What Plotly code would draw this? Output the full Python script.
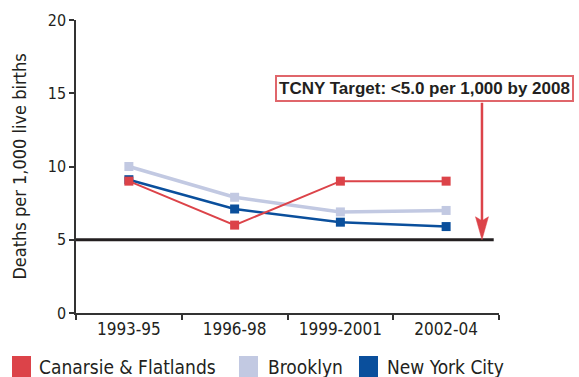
import plotly.graph_objects as go

# Infant mortality, deaths per 1,000 live births
periods = ["1993-95", "1996-98", "1999-2001", "2002-04"]
canarsie = [9.0, 6.0, 9.0, 9.0]
brooklyn = [10.0, 7.9, 6.9, 7.0]
nyc = [9.1, 7.1, 6.2, 5.9]
target = 5.0
y_ticks = [0, 5, 10, 15, 20]

RED = "#dc4349"
LIGHT = "#c2c9e2"
DARK = "#0a4f9c"
INK = "#231f20"
FONT = "DejaVu Sans Condensed, Noto Sans, sans-serif"

W, H = 579, 377
ML, MR, MT, MB = 76, 80, 20, 64
PW, PH = W - ML - MR, H - MT - MB


def px_x(p):
    return (p - ML) / PW


def px_y(p):
    return (H - MB - p) / PH


fig = go.Figure()

series = [
    ("Brooklyn", brooklyn, LIGHT, 3.5),
    ("New York City", nyc, DARK, 2.5),
    ("Canarsie & Flatlands", canarsie, RED, 2),
]
for name, vals, color, lw in series:
    fig.add_trace(go.Scatter(
        x=periods, y=vals, name=name, mode="lines+markers",
        line=dict(color=color, width=lw),
        marker=dict(symbol="square", size=9, color=color),
        showlegend=False, cliponaxis=False,
    ))

# Target reference line
fig.add_shape(type="line", xref="x", yref="y", x0=-0.5, x1=3.45,
              y0=target, y1=target, line=dict(color=INK, width=3))

# Target callout box
fig.add_annotation(
    xref="paper", yref="paper", x=px_x(424.5), y=px_y(89),
    xanchor="center", yanchor="middle", showarrow=False,
    text="<b>TCNY Target: &lt;5.0 per 1,000 by 2008</b>",
    font=dict(family="Liberation Sans, Arial, sans-serif", size=17, color=INK),
    bordercolor="#e0666b", borderwidth=2, borderpad=2, bgcolor="white",
)

# Arrow from the callout down to the target line (pixel offsets above the tip)
arrow_x = 3.339
fig.add_shape(type="line", xref="x", yref="y", xsizemode="pixel", ysizemode="pixel",
              xanchor=arrow_x, yanchor=target, x0=0, x1=0, y0=18, y1=137,
              line=dict(color=RED, width=2.5))
fig.add_shape(type="path", xref="x", yref="y", xsizemode="pixel", ysizemode="pixel",
              xanchor=arrow_x, yanchor=target,
              path="M0,0 L-6.5,23 L0,19 L6.5,23 Z",
              fillcolor=RED, line=dict(color=RED, width=0.5))

# Legend drawn beneath the plot
legend_items = [
    ("Canarsie & Flatlands", RED, 12, 31, 37),
    ("Brooklyn", LIGHT, 239, 258, 266),
    ("New York City", DARK, 359, 378, 385),
]
for label, color, sx0, sx1, tx in legend_items:
    fig.add_shape(type="rect", xref="paper", yref="paper",
                  x0=px_x(sx0), x1=px_x(sx1), y0=px_y(377), y1=px_y(356),
                  fillcolor=color, line=dict(width=0))
    fig.add_annotation(xref="paper", yref="paper", x=px_x(tx), y=px_y(367),
                       xanchor="left", yanchor="middle", showarrow=False,
                       text=label, font=dict(family=FONT, size=19, color=INK))

fig.update_layout(
    width=W, height=H, margin=dict(l=ML, r=MR, t=MT, b=MB),
    paper_bgcolor="white", plot_bgcolor="white",
    font=dict(family=FONT, color=INK),
)
fig.update_xaxes(
    type="category", range=[-0.5, 3.5], tickson="boundaries",
    showline=True, linecolor="#333333", linewidth=1.5,
    ticks="outside", ticklen=5, tickcolor="#333333", tickwidth=1.5,
    showgrid=False, zeroline=False, tickfont=dict(size=17),
)
fig.update_yaxes(
    range=[0, 20], tickvals=y_ticks,
    showline=True, linecolor="#333333", linewidth=1.5,
    ticks="outside", ticklen=5, tickcolor="#333333", tickwidth=1.5,
    showgrid=False, zeroline=False, tickfont=dict(size=16),
    title=dict(text="Deaths per 1,000 live births", font=dict(size=18), standoff=16),
)

fig.write_html("out.html")
